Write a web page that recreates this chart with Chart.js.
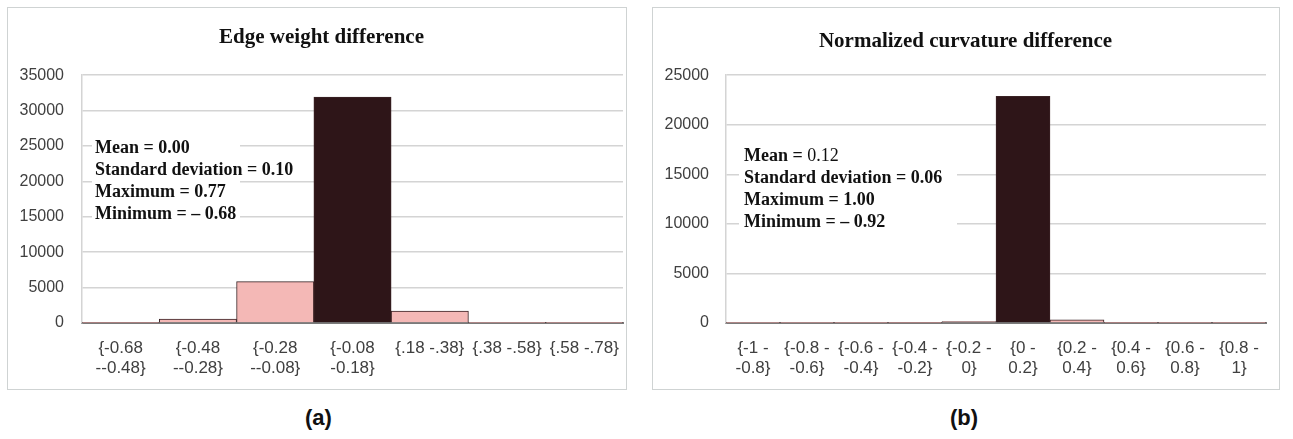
<!DOCTYPE html>
<html>
<head>
<meta charset="utf-8">
<script src="https://cdn.jsdelivr.net/npm/chart.js@4/dist/chart.umd.min.js"></script>
<style>
  body { margin: 0; background: #fff; width: 1293px; height: 439px; position: relative; overflow: hidden; }
  .panel { position: absolute; top: 7px; height: 383px; border: 1.5px solid #cfd3d3; box-sizing: border-box; }
  #pa { left: 7px; width: 620px; }
  #pb { left: 652px; width: 628px; }
  .cap { position: absolute; top: 405px; font: bold 22px "Liberation Sans", Arial, sans-serif; color: #111; }
</style>
</head>
<body>
<div class="panel" id="pa"><canvas id="ca"></canvas></div>
<div class="panel" id="pb"><canvas id="cb"></canvas></div>
<div class="cap" style="left:305px">(a)</div>
<div class="cap" style="left:950px">(b)</div>
<script>
// edge weight difference bins
const edgeLabels = [["{-0.68", "--0.48}"], ["{-0.48", "--0.28}"], ["{-0.28", "--0.08}"], ["{-0.08", "-0.18}"], "{.18 -.38}", "{.38 -.58}", "{.58 -.78}"];
const edgeCounts = [60, 570, 5850, 31900, 1700, 40, 30];
const edgeStats = [["Mean = ", "0.00"], ["Standard deviation = ", "0.10"], ["Maximum = ", "0.77"], ["Minimum = ", "\u2013 0.68"]];

// normalized curvature difference bins
const curvLabels = [["{-1 -", "-0.8}"], ["{-0.8 -", "-0.6}"], ["{-0.6 -", "-0.4}"], ["{-0.4 -", "-0.2}"], ["{-0.2 -", "0}"], ["{0 -", "0.2}"], ["{0.2 -", "0.4}"], ["{0.4 -", "0.6}"], ["{0.6 -", "0.8}"], ["{0.8 -", "1}"]];
const curvCounts = [20, 20, 30, 40, 150, 22870, 330, 40, 20, 20];
const curvStats = [["Mean = ", "0.12"], ["Standard deviation = ", "0.06"], ["Maximum = ", "1.00"], ["Minimum = ", "\u2013 0.92"]];

const pink = "#f4b8b6";
const dark = "#2e1518";

function barColours(vals) {
  const mx = Math.max(...vals);
  return vals.map(v => v === mx ? dark : pink);
}

// white box with the summary statistics
function statsPlugin(lines, box, meanBold) {
  return {
    id: "stats",
    afterDatasetsDraw(chart) {
      const ctx = chart.ctx;
      ctx.save();
      ctx.fillStyle = "#fff";
      ctx.fillRect(box.x, box.y, box.w, box.h);
      ctx.fillStyle = "#111";
      ctx.textBaseline = "middle";
      lines.forEach((l, i) => {
        const yy = box.ty + i * 22;
        ctx.font = "bold 18px 'Liberation Serif'";
        ctx.fillText(l[0], box.tx, yy);
        const lw = ctx.measureText(l[0]).width;
        ctx.font = (i === 0 && !meanBold ? "" : "bold ") + "18px 'Liberation Serif'";
        ctx.fillText(l[1], box.tx + lw, yy);
      });
      ctx.restore();
    }
  };
}

function makeChart(id, title, titlePad, labels, counts, yMax, pad, yPad, stats, box, meanBold) {
  return new Chart(document.getElementById(id), {
    type: "bar",
    data: {
      labels: labels,
      datasets: [{
        data: counts,
        backgroundColor: barColours(counts),
        borderColor: "#3a2224",
        borderWidth: 1,
        barPercentage: 1,
        categoryPercentage: 1
      }]
    },
    options: {
      responsive: true,
      maintainAspectRatio: false,
      animation: false,
      layout: { padding: pad },
      plugins: {
        legend: { display: false },
        tooltip: { enabled: false },
        title: {
          display: true,
          text: title,
          color: "#111",
          font: { family: "Liberation Serif", size: 21, weight: "bold", lineHeight: 1.2 },
          padding: titlePad
        }
      },
      scales: {
        x: {
          grid: { display: false, drawTicks: false },
          border: { color: "#7a7a7a", width: 2 },
          ticks: { color: "#404040", font: { family: "Liberation Sans", size: 17, lineHeight: 1.18 }, maxRotation: 0, autoSkip: false, padding: 15 },
          afterFit: s => { s.height = 58; s.paddingLeft = 0; s.paddingRight = 0; }
        },
        y: {
          min: 0,
          max: yMax,
          ticks: {
            stepSize: 5000,
            color: "#404040",
            font: { family: "Liberation Sans", size: 16 },
            padding: yPad,
            callback: v => String(v)
          },
          border: { display: true, color: "#d4d4d4", width: 1.5 },
          grid: { color: "#d4d4d4", lineWidth: 1.5, drawTicks: false },
          afterFit: s => { s.width = 44 + yPad; }
        }
      }
    },
    plugins: [statsPlugin(stats, box, meanBold)]
  });
}

makeChart("ca", "Edge weight difference", { top: 17, bottom: 25 }, edgeLabels, edgeCounts, 35000,
  { left: 12, right: 3, top: 0, bottom: 8 }, 18, edgeStats,
  { x: 84, y: 128, w: 148, h: 88, tx: 87, ty: 140 }, true);
makeChart("cb", "Normalized curvature difference", { top: 21, bottom: 21 }, curvLabels, curvCounts, 25000,
  { left: 12, right: 13, top: 0, bottom: 8 }, 17, curvStats,
  { x: 86, y: 136, w: 218, h: 90, tx: 91, ty: 148 }, false);
</script>
</body>
</html>
